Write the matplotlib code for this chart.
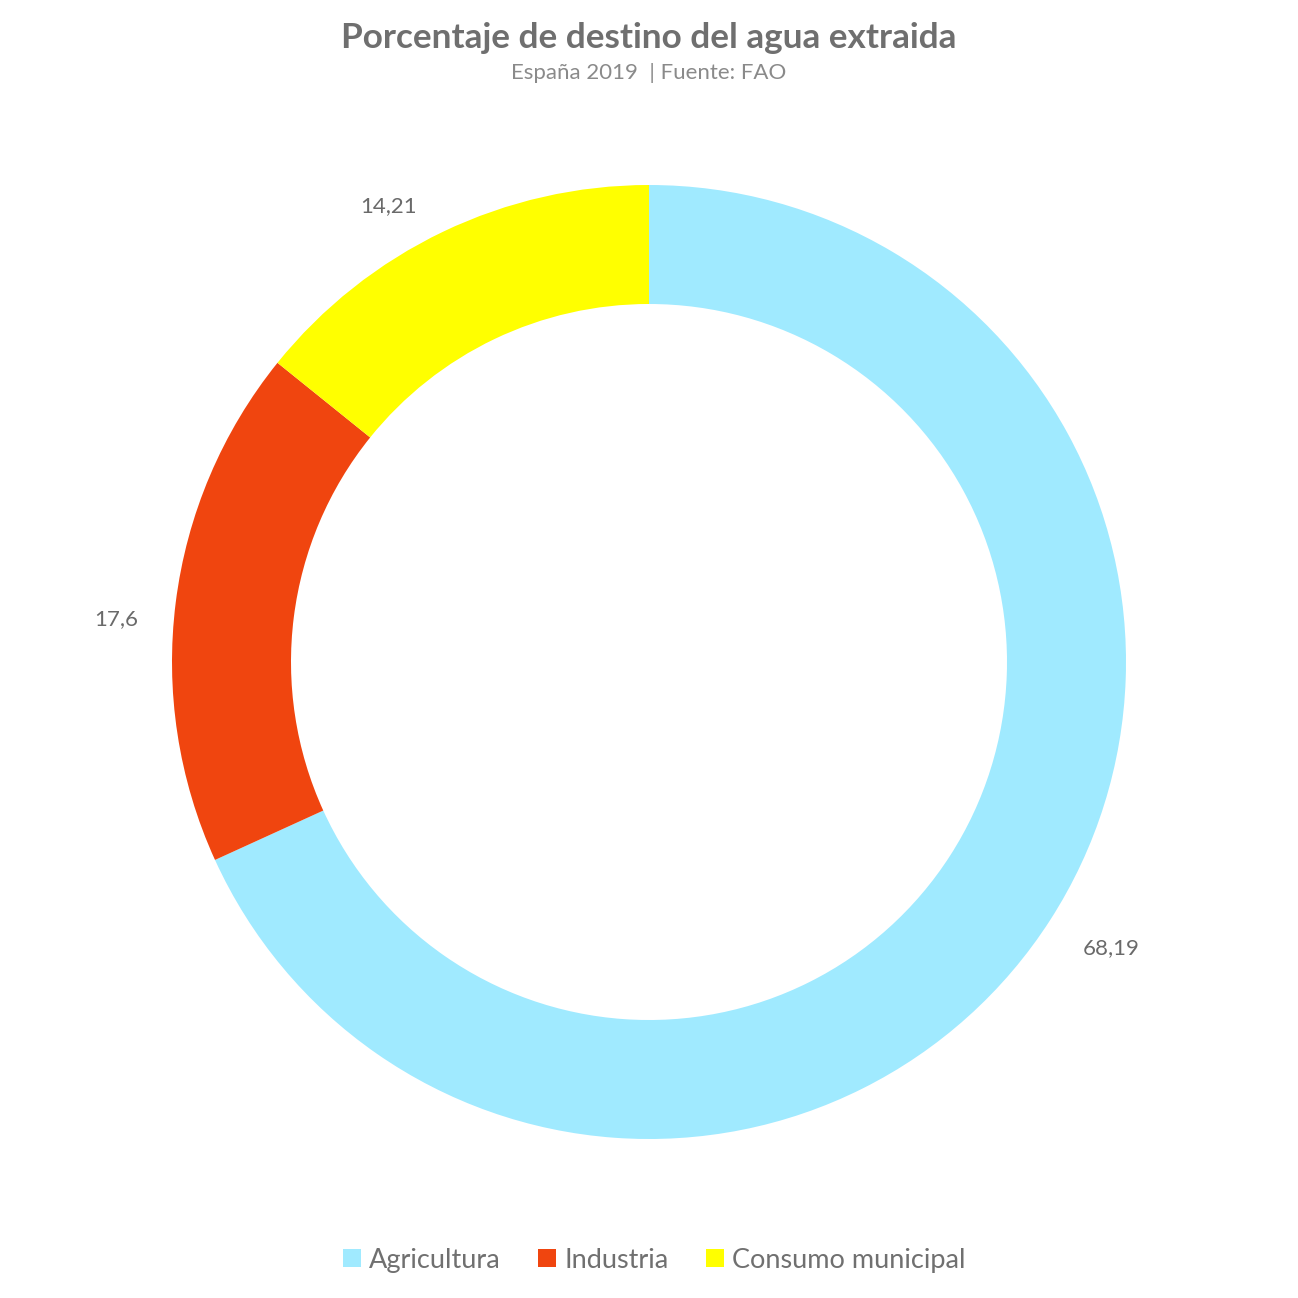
import numpy as np
import matplotlib.pyplot as plt
from matplotlib.patches import Patch

categorias = ['Agricultura', 'Industria', 'Consumo municipal']
valores = [68.19, 17.6, 14.21]
etiquetas = ['68,19', '17,6', '14,21']
colores = ['#A0EAFF', '#F0450F', '#FFFF00']

plt.rcParams['font.family'] = ['Lato', 'DejaVu Sans']

fig = plt.figure(figsize=(12.98, 12.98), dpi=100)
ax = fig.add_axes([0, 0, 1, 1])
ax.set_aspect('equal')
ax.axis('off')

cx, cy, r = 649, 636, 477
wedges, _ = ax.pie(valores, colors=colores,
                   startangle=90, counterclock=False,
                   center=(cx, cy), radius=r,
                   wedgeprops=dict(width=119, linewidth=0))
ax.set_xlim(0, 1298)
ax.set_ylim(0, 1298)

# etiquetas fuera del anillo (pequeño ajuste de ángulo y distancia)
ajuste_ang = [1.0, 2.6, 4.2]
dist = [1.14, 1.12, 1.10]
for w, txt, da, d in zip(wedges, etiquetas, ajuste_ang, dist):
    ang = np.deg2rad((w.theta1 + w.theta2) / 2 + da)
    ax.text(cx + d * r * np.cos(ang), cy + d * r * np.sin(ang), txt,
            ha='center', va='center', fontsize=16, color='#6a6a6a')

fig.text(0.5, 0.971, 'Porcentaje de destino del agua extraida', ha='center', va='center',
         fontsize=25.3, fontweight='bold', color='#6f6f6f')
fig.text(0.5, 0.944, 'España 2019  | Fuente: FAO', ha='center', va='center',
         fontsize=16, color='#8a8a8a')

handles = [Patch(facecolor=c, edgecolor='none') for c in colores]
fig.legend(handles, categorias, loc='center', bbox_to_anchor=(0.504, 0.029), ncol=3,
           frameon=False, handlelength=0.65, handleheight=0.65,
           handletextpad=0.3, columnspacing=1.4, labelcolor='#707070',
           prop=dict(family=['Lato', 'DejaVu Sans'], size=19.5))

fig.savefig('out.png', dpi=100)
